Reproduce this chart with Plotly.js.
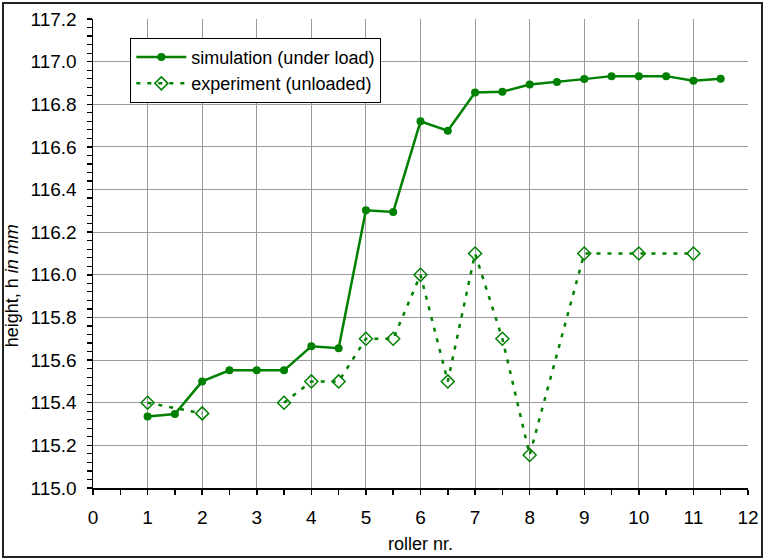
<!DOCTYPE html>
<html>
<head>
<meta charset="utf-8">
<script src="https://cdn.plot.ly/plotly-3.0.1.min.js"></script>
<style>
  html, body { margin: 0; padding: 0; background: #fff; }
  #wrap { position: relative; width: 763px; height: 558px; }
  #chart { width: 763px; height: 558px; }
  #frame { position: absolute; left: 2px; top: 2px; width: 757px; height: 552px; border: 2px solid #222; pointer-events: none; }
</style>
</head>
<body>
<div id="wrap">
  <div id="chart"></div>
  <div id="frame"></div>
</div>
<script>
// Simulation (under load)
const simX = [1, 1.5, 2, 2.5, 3, 3.5, 4, 4.5, 5, 5.5, 6, 6.5, 7, 7.5, 8, 8.5, 9, 9.5, 10, 10.5, 11, 11.5];
const simY = [115.335, 115.347, 115.50, 115.552, 115.552, 115.552, 115.665, 115.656, 116.303, 116.295, 116.72, 116.676, 116.855, 116.859, 116.893, 116.904, 116.918, 116.932, 116.932, 116.932, 116.91, 116.92];

// Experiment (unloaded); null marks the gap in the measured series
const expX = [1, 2, 2.5, 3.5, 4, 4.5, 5, 5.5, 6, 6.5, 7, 7.5, 8, 9, 10, 11];
const expY = [115.40, 115.35, null, 115.40, 115.50, 115.50, 115.70, 115.70, 116.00, 115.50, 116.10, 115.70, 115.155, 116.10, 116.10, 116.10];

const seriesNames = ['simulation (under load)', 'experiment (unloaded)'];
const xTitle = 'roller nr.';
const yTitle = 'height, h <i>in mm</i>';

const green = '#008000';
const font = { family: 'Liberation Sans, Arial, sans-serif', size: 18, color: '#000' };
const tickFont = { family: 'Liberation Sans, Arial, sans-serif', size: 19, color: '#000' };

const traces = [
  {
    x: simX, y: simY, name: seriesNames[0], type: 'scatter', mode: 'lines+markers',
    legendgroup: 'a',
    line: { color: green, width: 2.5 },
    marker: { symbol: 'circle', size: 8, color: green }
  },
  {
    x: expX, y: expY, name: seriesNames[1], type: 'scatter', mode: 'lines+markers',
    legendgroup: 'b', connectgaps: false,
    line: { color: green, width: 2.5, dash: '4px,7px' },
    marker: { symbol: 'diamond-open', size: 10, color: green, line: { width: 1.5, color: green } }
  }
];

const layout = {
  width: 763, height: 558,
  margin: { l: 93, r: 15, t: 19, b: 70 },
  paper_bgcolor: '#fff', plot_bgcolor: '#fff',
  font: font,
  showlegend: true,
  legend: {
    x: 0.057, y: 0.96, xanchor: 'left', yanchor: 'top',
    bgcolor: '#fff', bordercolor: '#000', borderwidth: 1,
    font: font, traceorder: 'grouped', tracegroupgap: 0,
    itemwidth: 50
  },
  annotations: [
    {
      text: yTitle, xref: 'paper', yref: 'paper', x: -0.1236, y: 0.43,
      xanchor: 'center', yanchor: 'middle', textangle: -90, showarrow: false,
      font: font
    }
  ],
  xaxis: {
    range: [0, 12], dtick: 1, tick0: 0,
    showline: true, linecolor: '#000', linewidth: 1.5,
    ticks: 'outside', ticklen: 5, tickwidth: 1.5, tickcolor: '#000',
    minor: { dtick: 0.5, ticks: 'outside', ticklen: 5, tickwidth: 1.5, tickcolor: '#000', showgrid: false },
    showgrid: true, gridcolor: '#9a9a9a', gridwidth: 1,
    zeroline: false, tickfont: tickFont, ticklabelstandoff: 7,
    title: { text: xTitle, font: font, standoff: 10 }
  },
  yaxis: {
    range: [115.0, 117.2], dtick: 0.2, tick0: 115, tickformat: '.1f',
    showline: true, linecolor: '#000', linewidth: 1.5,
    ticks: 'outside', ticklen: 5, tickwidth: 1.5, tickcolor: '#000',
    minor: { dtick: 0.04, ticks: 'outside', ticklen: 5, tickwidth: 1.2, tickcolor: '#000', showgrid: false },
    showgrid: true, gridcolor: '#9a9a9a', gridwidth: 1,
    zeroline: false, tickfont: tickFont, ticklabelstandoff: 6
  },
  yaxis2: {
    overlaying: 'y', anchor: 'x', side: 'left',
    range: [115.0, 117.2], dtick: 0.2, tick0: 115,
    ticks: 'inside', ticklen: 3, tickwidth: 1.5, tickcolor: '#000',
    showticklabels: false, showgrid: false, showline: false, zeroline: false
  }
};

Plotly.newPlot('chart', traces, layout, { displayModeBar: false, staticPlot: true });
</script>
</body>
</html>
